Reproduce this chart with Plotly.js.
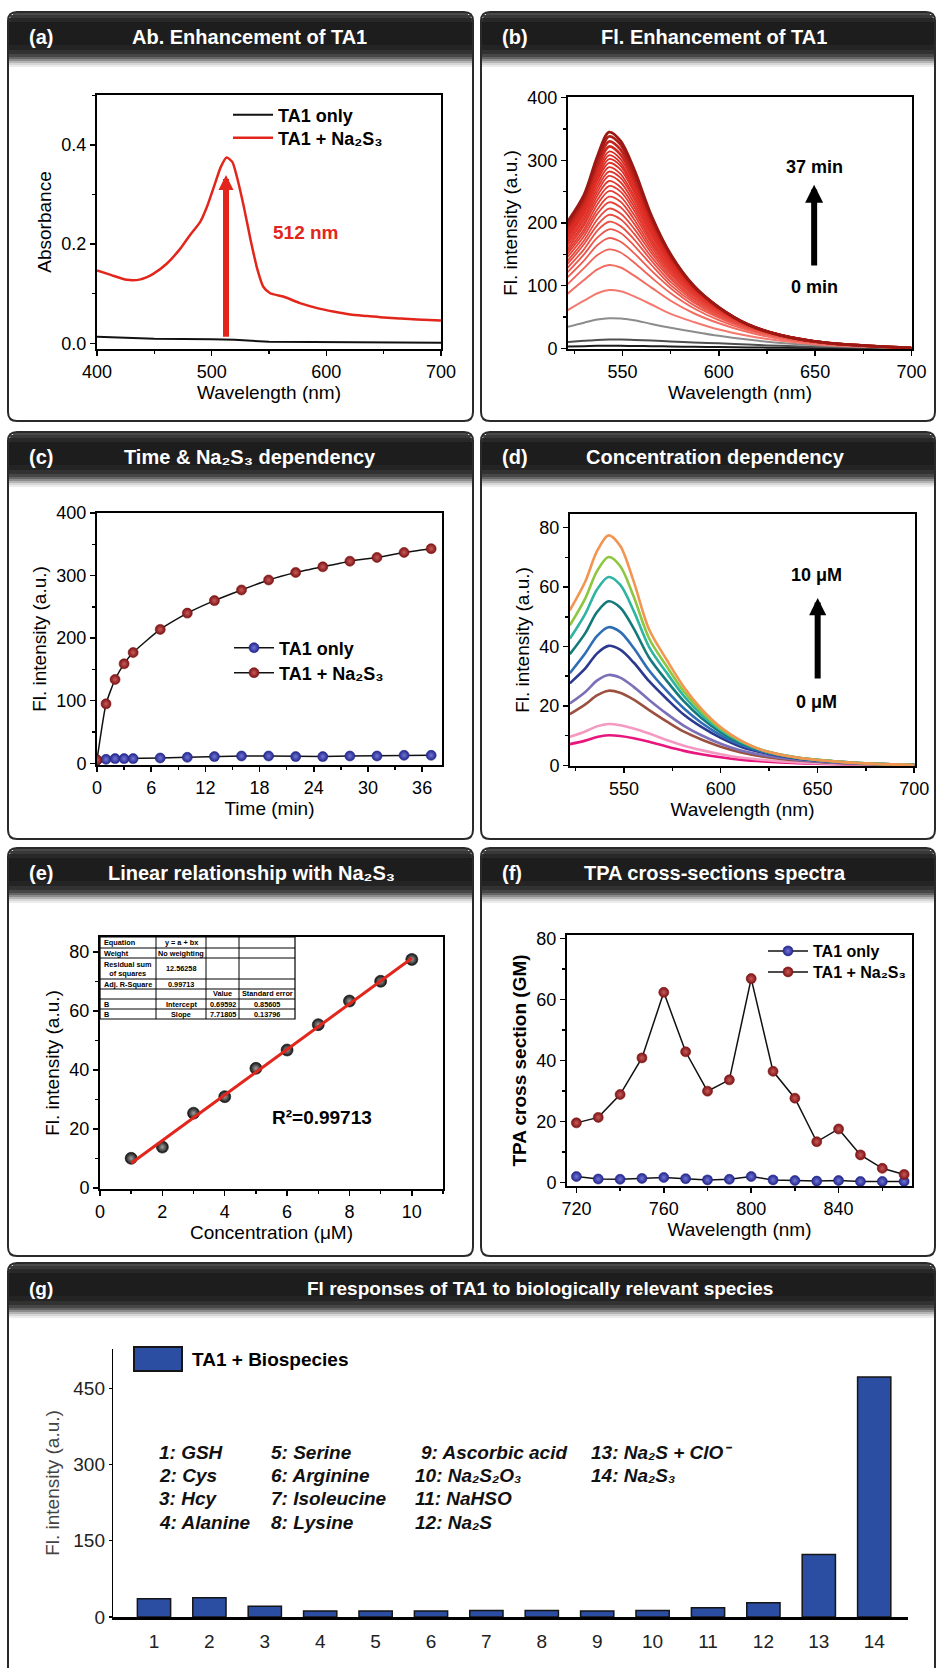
<!DOCTYPE html>
<html><head><meta charset="utf-8">
<script src="https://cdn.plot.ly/plotly-3.0.1.min.js"></script>
<style>html,body{margin:0;padding:0;background:#fff}#chart{width:937px;height:1668px}</style>
</head><body><div id="chart"></div>
<script>
// ================= DATA =================
// (a) absorbance spectra
const absWl = [400, 412, 426, 438, 449, 461, 473, 481, 490, 496, 502, 508, 513, 518, 522, 528, 534, 540, 545, 551, 563, 577, 592, 606, 621, 636, 650, 665, 679, 700];
const absTA1Na2S3 = [0.147, 0.138, 0.128, 0.129, 0.140, 0.161, 0.192, 0.218, 0.245, 0.276, 0.316, 0.356, 0.375, 0.366, 0.336, 0.276, 0.208, 0.148, 0.114, 0.101, 0.094, 0.081, 0.071, 0.064, 0.058, 0.055, 0.052, 0.050, 0.048, 0.046];
const absWlTA1 = [400, 450, 500, 520, 550, 600, 700];
const absTA1 = [0.013, 0.009, 0.008, 0.007, 0.003, 0.002, 0.001];

// (b) time-dependent fluorescence spectra (0 min ... 37 min), one row per recorded curve
const flWl = [521, 530, 537, 543, 549, 556, 565, 575, 587, 600, 615, 632, 655, 700];
const flTimeSpectra = [
  [3, 3.5, 4, 4, 4, 3.8, 3.5, 3, 2.5, 2, 1.5, 1, 0.5, 0],
  [10, 12, 13.5, 14, 14, 13.5, 12.5, 11, 9.5, 8, 6, 4, 2, 0.3],
  [34, 41, 46, 48, 47.5, 45, 39, 33, 26.5, 20, 14, 8.5, 4, 0.5],
  [60, 76, 88, 93, 91, 83, 70, 55, 42, 30, 20, 12, 5.5, 0.5],
  [86, 109, 126, 133, 129, 116, 97, 76, 56, 40, 26, 15, 6.7, 0.5],
  [101, 128, 149, 158, 153, 137, 113, 88, 64, 45, 29, 17, 7.5, 0.6],
  [112, 140, 165, 176, 170, 152, 124, 96, 69, 49, 31, 18, 8, 0.6],
  [120, 150, 177, 190, 184, 164, 133, 101, 73, 51, 33, 19, 8.3, 0.6],
  [127, 158, 188, 202, 195, 174, 140, 106, 76, 53, 34, 20, 8.5, 0.6],
  [133, 166, 197, 213, 206, 183, 146, 111, 79, 55, 35, 20, 8.7, 0.6],
  [138, 172, 206, 223, 215, 191, 152, 114, 81, 56, 35, 20.5, 8.9, 0.7],
  [144, 179, 215, 233, 225, 199, 157, 118, 84, 58, 36, 20.7, 9, 0.7],
  [149, 185, 222, 242, 234, 206, 162, 121, 85, 59, 36.6, 21, 9.1, 0.7],
  [153, 190, 230, 251, 242, 213, 167, 124, 87, 60, 37, 21, 9.2, 0.7],
  [157, 196, 237, 259, 250, 220, 171, 127, 89, 61, 37.4, 21.3, 9.2, 0.65],
  [162, 200, 244, 267, 257, 226, 175, 129, 90, 61.5, 37.7, 21.4, 9.3, 0.65],
  [166, 205, 250, 275, 265, 232, 180, 132, 92, 62, 38, 21.5, 9.3, 0.65],
  [169, 209, 256, 282, 272, 238, 183, 134, 93, 63, 38, 21.5, 9.3, 0.6],
  [173, 214, 262, 289, 278, 243, 186, 136, 94, 63, 38, 21.5, 9.3, 0.6],
  [176, 218, 268, 296, 285, 249, 190, 138, 95, 64, 38, 21.5, 9.3, 0.6],
  [179, 221, 272, 302, 291, 253, 193, 140, 95.5, 64, 38.4, 21.5, 9.3, 0.6],
  [182, 225, 277, 308, 296, 258, 196, 141, 96, 64, 38.5, 21.4, 9.3, 0.6],
  [185, 228, 282, 314, 302, 263, 198, 143, 97, 65, 38.5, 21.4, 9.3, 0.6],
  [189, 232, 289, 322, 309, 269, 202, 145, 98, 65, 38.4, 21.2, 9.2, 0.6],
  [193, 237, 295, 330, 317, 275, 206, 147, 99, 65, 38.3, 21.1, 9.1, 0.55],
  [197, 241, 301, 338, 325, 281, 209, 149, 99, 65.5, 38.2, 21, 9, 0.55],
  [200, 245, 307, 345, 331, 286, 212, 150, 100, 65.5, 38, 20.7, 9, 0.5]
];

// (c) kinetics
const timeMin = [0, 1, 2, 3, 4, 7, 10, 13, 16, 19, 22, 25, 28, 31, 34, 37];
const kinTA1 = [5, 6.4, 7.5, 7.5, 7.5, 8.5, 9.6, 10.7, 11.7, 11.7, 10.7, 10.7, 11.7, 11.7, 12.8, 12.8];
const kinTA1Na2S3 = [5.3, 95, 134, 159, 177, 214, 240, 260, 277, 293, 305, 314, 323, 329, 337, 343];

// (d) concentration-dependent spectra (1 ... 10 uM)
const concWl = [522, 530, 536, 542, 548, 555, 563, 572, 581, 590, 600, 610, 622, 640, 660, 680, 700];
const concSpectra = [
  [7.1, 8.3, 9.5, 10.1, 9.85, 9.1, 7.9, 6.3, 4.85, 3.7, 2.7, 1.9, 1.3, 0.7, 0.35, 0.15, 0.05],
  [9.6, 11.4, 13.1, 13.9, 13.5, 12.4, 10.7, 8.5, 6.6, 5.1, 3.7, 2.6, 1.8, 0.95, 0.47, 0.2, 0.07],
  [17.2, 20.5, 23.5, 25.1, 24.4, 22.1, 18.6, 14.8, 11.3, 8.7, 6.25, 4.4, 2.9, 1.6, 0.8, 0.33, 0.1],
  [20.8, 24.7, 28.5, 30.4, 29.5, 26.4, 22, 17.4, 13.3, 10.1, 7.25, 5.05, 3.36, 1.8, 0.9, 0.37, 0.12],
  [27.6, 32.6, 37.6, 40.2, 38.9, 34.6, 28.3, 22.4, 17, 12.9, 9.2, 6.35, 4.2, 2.2, 1.1, 0.46, 0.14],
  [31, 37.7, 43.5, 46.5, 44.9, 39.5, 31.9, 25.1, 19.1, 14.3, 10.1, 7, 4.5, 2.4, 1.2, 0.49, 0.14],
  [37.4, 44.5, 51.5, 55.2, 53.1, 46.1, 36.2, 28.5, 21.5, 15.9, 11.1, 7.6, 4.85, 2.5, 1.25, 0.5, 0.13],
  [42.6, 51, 59.1, 63.4, 60.8, 52, 39.8, 31.2, 23.3, 17.1, 11.8, 8, 4.95, 2.56, 1.26, 0.5, 0.11],
  [47.1, 56.2, 65.3, 70.1, 67.1, 56.8, 42.7, 33.4, 24.8, 18.05, 12.3, 8.3, 5, 2.57, 1.25, 0.48, 0.1],
  [52.2, 61.9, 72, 77.4, 73.9, 61.9, 45.7, 35.6, 26.3, 19, 12.8, 8.5, 5, 2.55, 1.24, 0.46, 0.08]
];

// (e) linear fit
const concUM = [1, 2, 3, 4, 5, 6, 7, 8, 9, 10];
const flAtPeak = [10.1, 13.9, 25.4, 31.0, 40.6, 46.8, 55.4, 63.4, 70.1, 77.5];
const fitIntercept = 0.69592;
const fitSlope = 7.71805;
const fitTableHeader = ['Equation', 'y = a + bx', '', ''];
const fitTableCol1 = ['Weight', 'Residual sum<br>of squares', 'Adj. R-Square', '', 'B', 'B'];
const fitTableCol2 = ['No weighting', '12.56258', '0.99713', '', 'Intercept', 'Slope'];
const fitTableCol3 = ['', '', '', 'Value', '0.69592', '7.71805'];
const fitTableCol4 = ['', '', '', 'Standard error', '0.85605', '0.13796'];

// (f) TPA cross sections
const tpaWl = [720, 730, 740, 750, 760, 770, 780, 790, 800, 810, 820, 830, 840, 850, 860, 870];
const tpaTA1 = [2.0, 1.2, 1.1, 1.4, 1.7, 1.3, 0.9, 1.1, 2.0, 0.9, 0.7, 0.5, 0.7, 0.4, 0.4, 0.4];
const tpaTA1Na2S3 = [19.6, 21.4, 28.9, 40.9, 62.4, 42.9, 30.0, 33.7, 66.9, 36.5, 27.7, 13.4, 17.6, 9.1, 4.7, 2.7];

// (g) selectivity
const speciesNo = [1, 2, 3, 4, 5, 6, 7, 8, 9, 10, 11, 12, 13, 14];
const speciesFl = [36, 38, 21, 12, 12, 12, 13, 13, 12, 13, 18, 28, 123, 472];
const speciesNames = ['1: GSH', '2: Cys', '3: Hcy', '4: Alanine',
  '5: Serine', '6: Arginine', '7: Isoleucine', '8: Lysine',
  '9: Ascorbic acid', '10: Na₂S₂O₃', '11: NaHSO', '12: Na₂S',
  '13: Na₂S + ClO⁻', '14: Na₂S₃'];

// ================= STYLE / LAYOUT =================
const W = 937, H = 1668;
const fx = p => p / W, fy = p => 1 - p / H;
const FONT = 'Liberation Sans, Arial, Helvetica, sans-serif';
const RED = '#e2261c';
const NA2S3 = 'TA1 + Na₂S₃';
const bColors = ['#1a1a1a','#4f4f4f','#8c8c8c','#f4796f','#f26d62',
  '#f06458','#ee5c50','#ec554a','#ea5045','#e84b40','#e7473c','#e64339','#e54036','#e43d33',
  '#e33a30','#e2372e','#e1352c','#e0332a','#df3128','#de2f26','#dd2d24','#dc2b22','#da2a21',
  '#ce2820','#bf231c','#ae1e18','#9b1914'];
const bWidths = flTimeSpectra.map((r, i) => i < 5 ? 2 : (i < 23 ? 1.8 : 2.8));
const dColors = ['#e8177d','#f49ac2','#9b5040','#7b70b8','#2b3990','#2f6eb5','#14797b','#2fb4a2','#8dc63f','#f39552'];

const sphere = (c, hi, s) => ({color: c, size: s, gradient: {type: 'radial', color: hi}, line: {width: 0.6, color: c}});
const RED_M = sphere('#7e1414', '#c85a5a', 10);
const BLUE_M = sphere('#23268c', '#7276d6', 10);

const traces = [];
// (a)
traces.push({type:'scatter', mode:'lines', x:absWlTA1, y:absTA1, name:'TA1 only',
  line:{color:'#111', width:2}, xaxis:'x', yaxis:'y', legend:'legend'});
traces.push({type:'scatter', mode:'lines', x:absWl, y:absTA1Na2S3, name:NA2S3,
  line:{color:RED, width:2.5, shape:'spline', smoothing:0.6}, xaxis:'x', yaxis:'y', legend:'legend2'});
// (b)
flTimeSpectra.forEach((row, i) => traces.push({type:'scatter', mode:'lines', x:flWl, y:row, showlegend:false,
  line:{color:bColors[i], width:bWidths[i], shape:'spline', smoothing:0.9}, xaxis:'x2', yaxis:'y2'}));
// (c)
traces.push({type:'scatter', mode:'lines+markers', x:timeMin, y:kinTA1, name:'TA1 only',
  line:{color:'#111', width:1.5}, marker:BLUE_M, xaxis:'x3', yaxis:'y3', legend:'legend3'});
traces.push({type:'scatter', mode:'lines+markers', x:timeMin, y:kinTA1Na2S3, name:NA2S3,
  line:{color:'#111', width:1.5, shape:'spline', smoothing:0.5}, marker:RED_M, xaxis:'x3', yaxis:'y3', legend:'legend4'});
// (d)
concSpectra.forEach((row, i) => traces.push({type:'scatter', mode:'lines', x:concWl, y:row, showlegend:false,
  line:{color:dColors[i], width:2.6, shape:'spline', smoothing:0.9}, xaxis:'x4', yaxis:'y4'}));
// (e)
traces.push({type:'scatter', mode:'markers', x:concUM, y:flAtPeak, showlegend:false,
  marker:sphere('#111111', '#a0a0a0', 12), xaxis:'x5', yaxis:'y5'});
const fitX = [concUM[0], concUM[concUM.length - 1]];
traces.push({type:'scatter', mode:'lines', x:fitX, y:fitX.map(v => fitIntercept + fitSlope * v), showlegend:false,
  line:{color:RED, width:3}, xaxis:'x5', yaxis:'y5'});
// (f)
traces.push({type:'scatter', mode:'lines+markers', x:tpaWl, y:tpaTA1, name:'TA1 only',
  line:{color:'#111', width:1.5}, marker:BLUE_M, xaxis:'x6', yaxis:'y6', legend:'legend5'});
traces.push({type:'scatter', mode:'lines+markers', x:tpaWl, y:tpaTA1Na2S3, name:NA2S3,
  line:{color:'#111', width:1.5}, marker:RED_M, xaxis:'x6', yaxis:'y6', legend:'legend6'});
// (g)
const BAR = '#2b4ea3';
traces.push({type:'bar', x:speciesNo, y:speciesFl, width:0.6, showlegend:false,
  marker:{color:BAR, line:{color:'#151515', width:1.5}}, xaxis:'x7', yaxis:'y7'});

// ---- axes ----
const tickfont = {family:FONT, size:18, color:'#000'};
const titlefont = {family:FONT, size:19, color:'#000'};
function ax(px0, px1, range, dtick, minor, title, extra) {
  return Object.assign({domain:[px0, px1], range, dtick, showline:true, linecolor:'#000', linewidth:2, mirror:true,
    ticks:'outside', ticklen:5, tickwidth:1.5, tickcolor:'#000', tickfont, showgrid:false, zeroline:false,
    minor:{dtick:minor, ticks:'outside', ticklen:3, tickwidth:1.5, tickcolor:'#000', showgrid:false},
    title:{text:title, font:titlefont, standoff:5}}, extra || {});
}
const X = (a, b) => [fx(a), fx(b)], Y = (bot, top) => [fy(bot), fy(top)];
const legendAt = (xl, yc, size) => ({x:fx(xl), y:fy(yc), xanchor:'left', yanchor:'middle', bgcolor:'rgba(0,0,0,0)',
  borderwidth:0, itemwidth:40, font:{family:FONT, size:size, color:'#000', weight:'bold'}});

const layout = {
  width:W, height:H, margin:{l:0, r:0, t:0, b:0}, paper_bgcolor:'#fff', plot_bgcolor:'rgba(0,0,0,0)',
  hovermode:false, font:{family:FONT},
  xaxis: ax(...X(97, 441), [400, 700], 100, 50, 'Wavelength (nm)', {anchor:'y', tick0:0}),
  yaxis: ax(...Y(349, 95), [-0.0115, 0.501], 0.2, 0.1, 'Absorbance', {anchor:'x', tickformat:'.1f'}),
  xaxis2: ax(...X(568, 912), [521.7, 700.3], 50, 25, 'Wavelength (nm)', {anchor:'y2', tick0:0}),
  yaxis2: ax(...Y(349, 97), [-1, 401], 100, 50, 'Fl. intensity (a.u.)', {anchor:'x2'}),
  xaxis3: ax(...X(97, 442), [0, 38.2], 6, 3, 'Time (min)', {anchor:'y3', tick0:0}),
  yaxis3: ax(...Y(765, 513), [-2.7, 400], 100, 50, 'Fl. intensity (a.u.)', {anchor:'x3'}),
  xaxis4: ax(...X(570, 915), [522.1, 700.4], 50, 25, 'Wavelength (nm)', {anchor:'y4', tick0:0}),
  yaxis4: ax(...Y(766, 514), [-0.24, 84.6], 20, 10, 'Fl. intensity (a.u.)', {anchor:'x4'}),
  xaxis5: ax(...X(100, 443), [0, 11], 2, 1, 'Concentration (μM)', {anchor:'y5', tick0:0}),
  yaxis5: ax(...Y(1189, 937), [-0.3, 85.1], 20, 10, 'Fl. intensity (a.u.)', {anchor:'x5'}),
  xaxis6: ax(...X(567, 912), [715.7, 873.6], 40, 20, 'Wavelength (nm)', {anchor:'y6', tick0:720}),
  yaxis6: ax(...Y(1186, 935), [-1.1, 81.2], 20, 10, '<b>TPA cross section (GM)</b>', {anchor:'x6'}),
  xaxis7: {domain:X(113, 908), range:[0.26, 14.61], anchor:'y7', tickmode:'array', tickvals:speciesNo,
    showline:true, linecolor:'#000', linewidth:2.5, ticks:'', showgrid:false, zeroline:false, ticklabelstandoff:6,
    tickfont:{family:FONT, size:19, color:'#222'}},
  yaxis7: {domain:Y(1617, 1349), range:[0, 527], anchor:'x7', tickmode:'array', tickvals:[0, 150, 300, 450],
    showline:true, linecolor:'#000', linewidth:1.2, ticks:'outside', ticklen:3, tickwidth:1.2, tickcolor:'#000',
    showgrid:false, zeroline:false, tickfont:{family:FONT, size:19, color:'#222'},
    title:{text:'Fl. intensity (a.u.)', font:{family:FONT, size:19, color:'#444'}, standoff:8}},
  legend: legendAt(228, 115, 18),
  legend2: legendAt(228, 138, 18),
  legend3: legendAt(229, 648, 18),
  legend4: legendAt(229, 673, 18),
  legend5: legendAt(763, 951, 16),
  legend6: legendAt(763, 972, 16),
  shapes: [], annotations: []
};

// ---- panel frames and gradient headers ----
const panels = [
  {x0:8, x1:473, y0:12, y1:421, label:'(a)', title:'Ab. Enhancement of TA1', cx:249},
  {x0:481, x1:935, y0:12, y1:421, label:'(b)', title:'Fl. Enhancement of TA1', cx:714},
  {x0:8, x1:473, y0:432, y1:839, label:'(c)', title:'Time &amp; Na₂S₃ dependency', cx:250},
  {x0:481, x1:935, y0:432, y1:839, label:'(d)', title:'Concentration dependency', cx:715},
  {x0:8, x1:473, y0:848, y1:1256, label:'(e)', title:'Linear relationship with Na₂S₃', cx:251},
  {x0:481, x1:935, y0:848, y1:1256, label:'(f)', title:'TPA cross-sections spectra', cx:715},
  {x0:8, x1:935, y0:1263, y1:1700, label:'(g)', title:'Fl responses of TA1 to biologically relevant species', cx:540}
];
const strips = [[0,3,'#4a4a4a'],[3,6,'#383838'],[6,10,'#282828'],[10,33,'#1d1d1d'],[33,38,'#242424'],[38,42,'#323232'],
  [42,45,'#474747'],[45,47,'#656565'],[47,49,'#8c8c8c'],[49,51,'#b4b4b4'],[51,53,'#d6d6d6'],[53,55,'#ececec']];
const R = 9;
const P = (x, y) => fx(x) + ',' + fy(y);
panels.forEach(p => {
  strips.forEach(s => {
    const mid = (s[0] + s[1]) / 2;
    const inset = mid < R ? R - Math.sqrt(R * R - (R - mid) * (R - mid)) : 0;
    layout.shapes.push({type:'rect', xref:'paper', yref:'paper', x0:fx(p.x0 + 1 + inset), x1:fx(p.x1 - 1 - inset),
      y0:fy(p.y0 + s[1]), y1:fy(p.y0 + s[0]), fillcolor:s[2], line:{width:0}, layer:'below'});
  });
  const {x0, x1, y0, y1} = p;
  const path = 'M' + P(x0 + R, y0) + 'L' + P(x1 - R, y0) + 'Q' + P(x1, y0) + ' ' + P(x1, y0 + R) +
    'L' + P(x1, y1 - R) + 'Q' + P(x1, y1) + ' ' + P(x1 - R, y1) + 'L' + P(x0 + R, y1) +
    'Q' + P(x0, y1) + ' ' + P(x0, y1 - R) + 'L' + P(x0, y0 + R) + 'Q' + P(x0, y0) + ' ' + P(x0 + R, y0) + 'Z';
  layout.shapes.push({type:'path', xref:'paper', yref:'paper', path, line:{color:'#2a2a2a', width:2}, layer:'above'});
  const hf = {family:FONT, size:p.label === '(g)' ? 19 : 20, color:'#fff', weight:'bold'};
  layout.annotations.push({xref:'paper', yref:'paper', x:fx(x0 + 19), y:fy(y0 + 25), xanchor:'left', yanchor:'middle',
    text:p.label, showarrow:false, font:hf});
  layout.annotations.push({xref:'paper', yref:'paper', x:fx(p.cx), y:fy(y0 + 25), xanchor:'center', yanchor:'middle',
    text:p.title, showarrow:false, font:hf});
});

// ---- (e) fit table, drawn as a grid of lines with real text ----
const tblCols = [100, 156, 206, 239, 295];
const tblRows = [937, 948, 958, 979, 989, 999, 1009, 1019];
layout.shapes.push({type:'rect', xref:'paper', yref:'paper', x0:fx(tblCols[0]), x1:fx(tblCols[4]),
  y0:fy(tblRows[7]), y1:fy(tblRows[0]), fillcolor:'#fff', line:{color:'#000', width:1.2}, layer:'above'});
tblRows.slice(1, -1).forEach(r => layout.shapes.push({type:'line', xref:'paper', yref:'paper',
  x0:fx(tblCols[0]), x1:fx(tblCols[4]), y0:fy(r), y1:fy(r), line:{color:'#000', width:1}, layer:'above'}));
tblCols.slice(1, -1).forEach(c => layout.shapes.push({type:'line', xref:'paper', yref:'paper',
  x0:fx(c), x1:fx(c), y0:fy(tblRows[7]), y1:fy(tblRows[0]), line:{color:'#000', width:1}, layer:'above'}));
const tblData = [fitTableHeader].concat(fitTableCol1.map((v, i) => [v, fitTableCol2[i], fitTableCol3[i], fitTableCol4[i]]));
const tblFont = {family:FONT, size:7.3, color:'#000', weight:'bold'};
tblData.forEach((row, r) => row.forEach((t, c) => {
  if (!t) return;
  const leftAlign = c === 0 && t.indexOf('<br>') < 0;
  layout.annotations.push({xref:'paper', yref:'paper', showarrow:false, text:t, font:tblFont,
    x:fx(leftAlign ? tblCols[0] + 2 : (tblCols[c] + tblCols[c + 1]) / 2), xanchor:leftAlign ? 'left' : 'center',
    y:fy((tblRows[r] + tblRows[r + 1]) / 2), yanchor:'middle'});
}));

// ---- in-plot annotations ----
const bold18 = {family:FONT, size:18, color:'#000', weight:'bold'};
const A = layout.annotations;
// (a)
A.push({xref:'x', yref:'y', x:512.5, y:0.3395, ax:512.5, ay:0.0101, axref:'x', ayref:'y', text:'', showarrow:true,
  arrowhead:2, arrowwidth:6, arrowsize:0.5, arrowcolor:RED, standoff:0, startstandoff:0});
A.push({xref:'x', yref:'y', x:581.6, y:0.223, text:'512 nm', showarrow:false, font:{family:FONT, size:19, color:RED, weight:'bold'}});
// (b)
A.push({xref:'x2', yref:'y2', x:649.5, y:261, ax:649.5, ay:130, axref:'x2', ayref:'y2', text:'', showarrow:true,
  arrowhead:2, arrowwidth:6, arrowsize:0.6, arrowcolor:'#000', standoff:0, startstandoff:0});
A.push({xref:'x2', yref:'y2', x:649.5, y:290, text:'37 min', showarrow:false, font:bold18});
A.push({xref:'x2', yref:'y2', x:649.5, y:98, text:'0 min', showarrow:false, font:bold18});
// (d)
A.push({xref:'x4', yref:'y4', x:650.1, y:56.3, ax:650.1, ay:28.7, axref:'x4', ayref:'y4', text:'', showarrow:true,
  arrowhead:2, arrowwidth:6, arrowsize:0.57, arrowcolor:'#000', standoff:0, startstandoff:0});
A.push({xref:'x4', yref:'y4', x:649.3, y:64, text:'10 μM', showarrow:false, font:bold18});
A.push({xref:'x4', yref:'y4', x:649.3, y:21.4, text:'0 μM', showarrow:false, font:bold18});
// (e)
A.push({xref:'paper', yref:'paper', x:fx(322), y:fy(1130), text:'R²=0.99713', showarrow:false,
  font:{family:FONT, size:19, color:'#000', weight:'bold'}});
// (g) legend + species key
layout.shapes.push({type:'rect', xref:'paper', yref:'paper', x0:fx(134), x1:fx(182), y0:fy(1371), y1:fy(1347),
  fillcolor:BAR, line:{color:'#151515', width:2}});
A.push({xref:'paper', yref:'paper', x:fx(190), y:fy(1359), xanchor:'left', yanchor:'middle', text:'TA1 + Biospecies',
  showarrow:false, font:{family:FONT, size:19, color:'#000', weight:'bold'}});
const colX = [157, 269, 413, 589], rowY = [1452, 1475, 1498, 1522];
const keyPos = [[0,0],[0,1],[0,2],[0,3],[1,0],[1,1],[1,2],[1,3],[2,0],[2,1],[2,2],[2,3],[3,0],[3,1]];
speciesNames.forEach((t, i) => {
  const [c, r] = keyPos[i];
  const xx = (i === 8) ? 419 : colX[c];
  A.push({xref:'paper', yref:'paper', x:fx(xx), y:fy(rowY[r]), xanchor:'left', yanchor:'middle', text:t, showarrow:false,
    font:{family:FONT, size:19, color:'#111', weight:'bold', style:'italic'}});
});

Plotly.newPlot('chart', traces, layout, {displayModeBar:false, staticPlot:true});
</script>
</body></html>
